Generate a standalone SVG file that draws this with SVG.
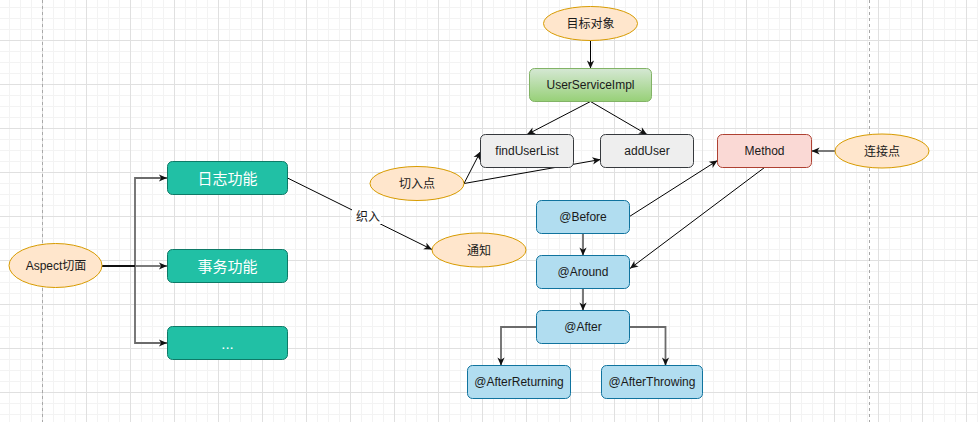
<svg xmlns="http://www.w3.org/2000/svg" width="978" height="422" viewBox="0 0 978 422">
<style>
text{font-family:"Liberation Sans",Arial,"Noto Sans CJK SC",sans-serif;font-size:12px;fill:#1a1a1a;text-anchor:middle}
.teal rect{fill:#21c0a5;stroke:#0e7a67;stroke-width:1}
.teal text{fill:#ffffff;font-size:15px}
.oval ellipse{fill:#ffe6cc;stroke:#d79b00;stroke-width:1}
.gray rect{fill:#eeeeee;stroke:#36393d;stroke-width:1}
.blue rect{fill:#b1ddf0;stroke:#10739e;stroke-width:1}
.e{fill:none;stroke:#000;stroke-width:1;marker-end:url(#arr)}
.g{fill:none;stroke:#6b6b6b;stroke-width:1.8;marker-end:url(#arr)}
</style>
<defs>
<pattern id="minor" x="42" y="40" width="11" height="11" patternUnits="userSpaceOnUse">
<path d="M0.5,0 V11 M0,0.5 H11" stroke="#f3f3f3" stroke-width="1" fill="none"/>
</pattern>
<pattern id="major" x="42" y="40" width="44" height="44" patternUnits="userSpaceOnUse">
<path d="M0.5,0 V44 M0,0.5 H44" stroke="#e0e0e0" stroke-width="1" fill="none"/>
</pattern>
<linearGradient id="green" x1="0" y1="0" x2="0" y2="1">
<stop offset="0" stop-color="#d5e8d4"/>
<stop offset="1" stop-color="#97d077"/>
</linearGradient>
<marker id="arr" viewBox="0 0 10 10" refX="9.5" refY="5" markerWidth="9" markerHeight="9" markerUnits="userSpaceOnUse" orient="auto">
<path d="M0.5,1 L9.5,5 L0.5,9 L3,5 z" fill="#111"/>
</marker>
</defs>
<rect width="978" height="422" fill="#ffffff"/>
<rect width="978" height="422" fill="url(#minor)"/>
<rect width="978" height="422" fill="url(#major)"/>
<path d="M42.5,0 V422 M869.5,0 V422" stroke="#a8a8a8" stroke-width="1" stroke-dasharray="3 3"/>

<g id="connectors">
<path class="g" d="M135,266 V178 H167"/>
<path class="g" d="M135,266 H167"/>
<path class="g" d="M135,266 V343 H167"/>
<path d="M102,266 H135" stroke="#111" stroke-width="2" fill="none"/>
<path class="e" d="M590.5,40.5 V68.5"/>
<path class="e" d="M590.5,101.5 L527,134.5"/>
<path class="e" d="M590.5,101.5 L647,134.5"/>
<path class="e" d="M464,183.5 L480.5,151.5"/>
<path class="e" d="M464,183.5 L600.5,159.5"/>
<path class="e" d="M287.5,178 L432,249.5"/>
<rect x="352" y="209" width="29" height="15" fill="#ffffff"/>
<text x="368" y="221">织入</text>
<path class="g" d="M835,151 H811.5"/>
<path class="e" d="M629.5,216.5 L717.5,160.5"/>
<path class="e" d="M764.5,167.5 L630,268.5"/>
<path class="g" d="M583,233.5 V255.5"/>
<path class="g" d="M583,288.5 V310.5"/>
<path class="g" d="M536.5,327 H501 V365.5"/>
<path class="g" d="M629.5,327 H665.5 V365.5"/>
</g>

<g id="aspect" class="oval"><ellipse cx="55.5" cy="265.5" rx="46.5" ry="22"/><text x="56" y="270">Aspect切面</text></g>
<g id="log" class="teal"><rect x="167.5" y="161.5" width="120" height="33" rx="5"/><text x="227.5" y="183.5">日志功能</text></g>
<g id="tx" class="teal"><rect x="167.5" y="249.5" width="120" height="33" rx="5"/><text x="227.5" y="271.5">事务功能</text></g>
<g id="more" class="teal"><rect x="167.5" y="326.5" width="120" height="33" rx="5"/><text x="227.5" y="348.5">...</text></g>

<g id="target" class="oval"><ellipse cx="590.5" cy="23.5" rx="47" ry="17"/><text x="590.5" y="28">目标对象</text></g>
<g id="usi"><rect x="529.5" y="68.5" width="122" height="33" rx="5" fill="url(#green)" stroke="#82b366"/><text x="590.5" y="89">UserServiceImpl</text></g>
<g id="find" class="gray"><rect x="480.5" y="134.5" width="93" height="33" rx="5"/><text x="527" y="155">findUserList</text></g>
<g id="add" class="gray"><rect x="600.5" y="134.5" width="93" height="33" rx="5"/><text x="647" y="155">addUser</text></g>
<g id="cut" class="oval"><ellipse cx="417" cy="183.5" rx="47" ry="17"/><text x="417" y="188">切入点</text></g>
<g id="method"><rect x="717.5" y="134.5" width="94" height="33" rx="5" fill="#fad9d5" stroke="#ae4132"/><text x="764.5" y="155">Method</text></g>
<g id="join" class="oval"><ellipse cx="882" cy="151" rx="47" ry="17"/><text x="882" y="155.5">连接点</text></g>
<g id="advice" class="oval"><ellipse cx="479" cy="250" rx="47" ry="17"/><text x="479" y="254.5">通知</text></g>
<g id="before" class="blue"><rect x="536.5" y="200.5" width="93" height="33" rx="5"/><text x="583" y="221">@Before</text></g>
<g id="around" class="blue"><rect x="536.5" y="255.5" width="93" height="33" rx="5"/><text x="583" y="276">@Around</text></g>
<g id="after" class="blue"><rect x="536.5" y="310.5" width="93" height="33" rx="5"/><text x="583" y="331">@After</text></g>
<g id="returning" class="blue"><rect x="467.5" y="365.5" width="103" height="33" rx="5"/><text x="519" y="386">@AfterReturning</text></g>
<g id="throwing" class="blue"><rect x="601.5" y="365.5" width="101" height="33" rx="5"/><text x="652" y="386">@AfterThrowing</text></g>
</svg>
